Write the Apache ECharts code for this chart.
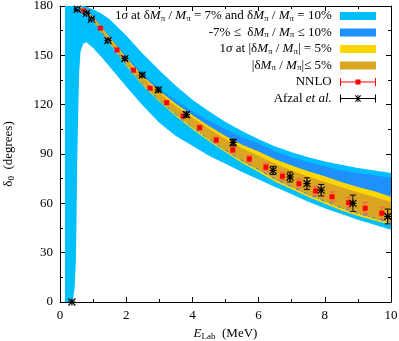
<!DOCTYPE html>
<html>
<head>
<meta charset="utf-8">
<script src="https://cdn.jsdelivr.net/npm/echarts@6/dist/echarts.min.js"></script>
<style>
  html, body { margin: 0; padding: 0; background: #fff; }
  #CajaGrafico { width: 399px; height: 341px; }
</style>
</head>
<body>
<div id="CajaGrafico"></div>
<script>
// outer (light blue) band
var cyanE  = [0.15, 0.38, 0.44, 0.48, 0.5, 0.52, 0.55, 0.58, 0.62, 0.7, 0.8, 1.0, 1.25, 1.5, 2, 2.5, 3, 3.5, 4, 4.5, 5, 5.5, 6, 6.5, 7, 7.5, 8, 8.5, 9, 9.5, 10];
var cyanUp = [180, 180, 180, 180, 180, 180, 180, 180, 180, 180, 179.5, 178, 175.5, 172, 162, 151, 141, 131.5, 123, 116, 109.5, 104, 99, 94.5, 91, 88, 85.5, 83.5, 81.5, 80, 78.5];
var cyanLo = [0, 0, 8, 25, 50, 85, 115, 140, 152, 157, 158, 154.5, 149, 143, 131, 119.5, 109, 101, 95, 89, 84, 79, 74.5, 70, 65.5, 61, 57, 53.5, 50, 47, 44];

// inner bands
var bandE    = [0.5, 0.6, 0.7, 0.8, 1.0, 1.5, 2.0, 2.5, 3.0, 3.5, 4.0, 4.5, 5.0, 5.5, 6.0, 6.5, 7.0, 7.5, 8.0, 8.5, 9.0, 9.5, 10];
var dodgerUp = [179.6, 179.7, 179, 177.8, 174, 161.8, 149.5, 138.7, 130, 122.5, 116, 110.2, 105, 100.2, 96.5, 91.5, 88, 85, 82.5, 80, 78.5, 77, 75.5];
var goldUp   = [179.5, 179.5, 178.7, 177.3, 173.5, 161, 148.5, 137.5, 128.5, 120.5, 113.5, 107, 101, 95.7, 91.5, 86.8, 83, 79.5, 76.5, 73, 70, 67.3, 64];
var goldLo   = [178.5, 177.5, 176.3, 174.7, 170.5, 157, 143.5, 131.7, 122, 113, 105, 97.8, 91, 84.5, 79, 73.2, 68.5, 63.8, 59.7, 55.7, 52.3, 49.5, 46.8];
var rodUp    = [179.3, 179.1, 178.3, 176.9, 173, 160.3, 147.6, 136.5, 127.3, 119.1, 112, 105.3, 99.1, 93.5, 89, 84, 80, 76.3, 73.2, 69.8, 66.7, 63.9, 61];
var rodLo    = [178.7, 177.9, 176.7, 175.1, 171, 157.7, 144.4, 132.5, 122.8, 114, 106.2, 99, 92.2, 85.9, 80.5, 74.7, 70, 65.4, 61.3, 57.3, 53.9, 51, 48];

// NNLO points
var nnloE   = [0.72, 1.22, 1.72, 2.22, 2.72, 3.22, 3.72, 4.22, 4.72, 5.22, 5.72, 6.22, 6.72, 7.22, 7.72, 8.22, 8.72, 9.22, 9.72];
var nnloV   = [177, 166.5, 153.3, 141, 130, 121.2, 113, 106, 98.5, 92.5, 87, 82, 76.5, 72, 67.5, 64, 60.4, 57, 54];
var nnloErr = [0.8, 0.8, 0.9, 1, 1, 1.2, 1.3, 1.5, 1.7, 1.8, 2, 2.2, 2.4, 2.6, 2.8, 3, 3.2, 3.5, 3.7];

// Afzal et al. points
var afzalE   = [0.36, 0.52, 0.8, 0.95, 1.45, 1.96, 2.48, 2.97, 3.82, 5.23, 6.44, 6.95, 7.46, 7.89, 8.85, 9.9];
var afzalV   = [0, 178, 175.5, 172, 159, 148, 138, 129, 114, 97, 80, 76, 72, 68, 60, 52];
var afzalErr = [0, 0.6, 0.7, 0.8, 0.9, 1, 1.1, 1.2, 1.5, 2, 2.5, 3, 3.5, 3.5, 5, 4.5];

var serif = 'Liberation Serif';

function bandSeries(name, color, xs, lo, hi) {
  var rows = xs.map(function (x, i) { return [x, lo[i], hi[i]]; });
  return {
    name: name, type: 'custom', data: rows, silent: true,
    encode: { x: 0, y: [1, 2] },
    itemStyle: { color: color },
    renderItem: function (params, api) {
      if (params.dataIndex !== 0) return null;
      var top = [], bot = [];
      rows.forEach(function (r) {
        top.push(api.coord([r[0], r[2]]));
        bot.push(api.coord([r[0], r[1]]));
      });
      return { type: 'polygon', shape: { points: top.concat(bot.reverse()) }, style: { fill: color } };
    }
  };
}

function pointSeries(name, color, barColor, xs, vs, es, star) {
  var rows = xs.map(function (x, i) { return [x, vs[i], es[i]]; });
  return {
    name: name, type: 'custom', data: rows, silent: true,
    encode: { x: 0, y: 1 },
    itemStyle: { color: color },
    renderItem: function (params, api) {
      var p = api.coord([api.value(0), api.value(1)]);
      var e = api.value(2);
      var kids = [];
      var ln = function (x1, y1, x2, y2, c, w) {
        kids.push({ type: 'line', shape: { x1: x1, y1: y1, x2: x2, y2: y2 }, style: { stroke: c, lineWidth: w } });
      };
      if (e > 0) {
        var hi = api.coord([api.value(0), api.value(1) + e]);
        var lo = api.coord([api.value(0), api.value(1) - e]);
        ln(p[0], hi[1], p[0], lo[1], barColor, 1);
        ln(p[0] - 3, hi[1], p[0] + 3, hi[1], barColor, 1);
        ln(p[0] - 3, lo[1], p[0] + 3, lo[1], barColor, 1);
      }
      if (star) {
        var r = 3.5;
        ln(p[0] - r, p[1], p[0] + r, p[1], color, 1.2);
        ln(p[0], p[1] - r, p[0], p[1] + r, color, 1.2);
        ln(p[0] - r, p[1] - r, p[0] + r, p[1] + r, color, 1.2);
        ln(p[0] - r, p[1] + r, p[0] + r, p[1] - r, color, 1.2);
      } else {
        kids.push({ type: 'rect', shape: { x: p[0] - 2.5, y: p[1] - 2.5, width: 5, height: 5 }, style: { fill: color } });
      }
      return { type: 'group', children: kids };
    }
  };
}

var labels = {
  b1: '1{i|σ} at δ{i|M}{s|π} / {i|M}{s|π} = 7% and δ{i|M}{s|π} / {i|M}{s|π} = 10% ',
  b2: '-7% ≤  δ{i|M}{s|π} / {i|M}{s|π} ≤ 10% ',
  b3: '1{i|σ} at |δ{i|M}{s|π} / {i|M}{s|π}| = 5% ',
  b4: '|δ{i|M}{s|π} / {i|M}{s|π}|≤ 5% ',
  NNLO: 'NNLO ',
  Afzal: 'Afzal {i|et al.} '
};

var axisCommon = {
  axisLine: { show: true, onZero: false, lineStyle: { color: '#000', width: 1 } },
  axisTick: { show: true, inside: true, length: 5, lineStyle: { color: '#000' } },
  minorTick: { show: true, splitNumber: 2, length: 3, lineStyle: { color: '#000' } },
  splitLine: { show: false },
  minorSplitLine: { show: false }
};

var ChartDOM = document.getElementById('CajaGrafico');
var myChart = echarts.init(ChartDOM);

var option = {
  animation: false,
  backgroundColor: '#fff',
  grid: { left: 60, right: 8, top: 6, bottom: 39, outerBoundsMode: 'none' },
  legend: {
    orient: 'vertical', right: 23, top: 9, align: 'right', padding: 0,
    itemWidth: 36, itemHeight: 8, itemGap: 2.5,
    selectedMode: false,
    formatter: function (name) { return labels[name]; },
    textStyle: {
      fontFamily: serif, fontSize: 13, color: '#000', lineHeight: 14,
      rich: {
        i: { fontFamily: serif, fontSize: 13, fontStyle: 'italic', color: '#000', lineHeight: 14 },
        s: { fontFamily: serif, fontSize: 9, color: '#000', verticalAlign: 'bottom', lineHeight: 14, padding: [5, 0, 0, 0] }
      }
    },
    data: [
      { name: 'b1', icon: 'rect' },
      { name: 'b2', icon: 'rect' },
      { name: 'b3', icon: 'rect' },
      { name: 'b4', icon: 'rect' },
      { name: 'NNLO', icon: 'path://M0,0H1V8H0ZM35,0H36V8H35ZM0,3.5H36V4.5H0ZM15.5,1.5H20.5V6.5H15.5Z' },
      { name: 'Afzal', icon: 'path://M0,0H1V8H0ZM35,0H36V8H35ZM0,3.5H36V4.5H0ZM17.5,0.5H18.5V7.5H17.5ZM15,1.3L15.7,0.6L21,6.7L20.3,7.4ZM20.3,0.6L21,1.3L15.7,7.4L15,6.7Z' }
    ]
  },
  xAxis: [
    Object.assign({
      type: 'value', min: 0, max: 10, interval: 2, position: 'bottom',
      name: '{i|E}{s|Lab}{n|  (MeV)}', nameLocation: 'middle', nameGap: 20,
      nameTextStyle: {
        rich: {
          i: { fontFamily: serif, fontSize: 13, fontStyle: 'italic', color: '#000' },
          s: { fontFamily: serif, fontSize: 9, color: '#000', verticalAlign: 'bottom', padding: [6, 0, 0, 0] },
          n: { fontFamily: serif, fontSize: 13, color: '#000' }
        }
      },
      axisLabel: { fontFamily: serif, fontSize: 13, color: '#000', margin: 7 }
    }, axisCommon),
    Object.assign({
      type: 'value', min: 0, max: 10, interval: 2, position: 'top',
      axisLabel: { show: false }
    }, axisCommon)
  ],
  yAxis: [
    Object.assign({
      type: 'value', min: 0, max: 180, interval: 30, position: 'left',
      name: '{d|δ}{s|0}{n|  (degrees)}', nameLocation: 'middle', nameGap: 44,
      nameTextStyle: {
        rich: {
          d: { fontFamily: serif, fontSize: 13, color: '#000' },
          s: { fontFamily: serif, fontSize: 9, color: '#000', verticalAlign: 'bottom', padding: [6, 0, 0, 0] },
          n: { fontFamily: serif, fontSize: 13, color: '#000' }
        }
      },
      axisLabel: { fontFamily: serif, fontSize: 13, color: '#000', margin: 7 }
    }, axisCommon),
    Object.assign({
      type: 'value', min: 0, max: 180, interval: 30, position: 'right',
      axisLabel: { show: false }
    }, axisCommon)
  ],
  series: [
    bandSeries('b1', '#00BFFF', cyanE, cyanLo, cyanUp),
    bandSeries('b2', '#1E90FF', bandE, rodLo, dodgerUp),
    bandSeries('b3', '#FFD700', bandE, goldLo, goldUp),
    bandSeries('b4', '#DAA520', bandE, rodLo, rodUp),
    {
      type: 'line', silent: true, symbol: 'none',
      data: bandE.map(function (x, i) { return [x, rodLo[i]]; }),
      lineStyle: { color: '#1E90FF', width: 1, type: [4, 2, 1, 2] }
    },
    pointSeries('NNLO', '#ff0000', '#ff5a5a', nnloE, nnloV, nnloErr, false),
    pointSeries('Afzal', '#000000', '#000000', afzalE, afzalV, afzalErr, true)
  ]
};

myChart.setOption(option);
window.addEventListener('resize', function () {
  myChart.resize();
});
</script>
</body>
</html>
